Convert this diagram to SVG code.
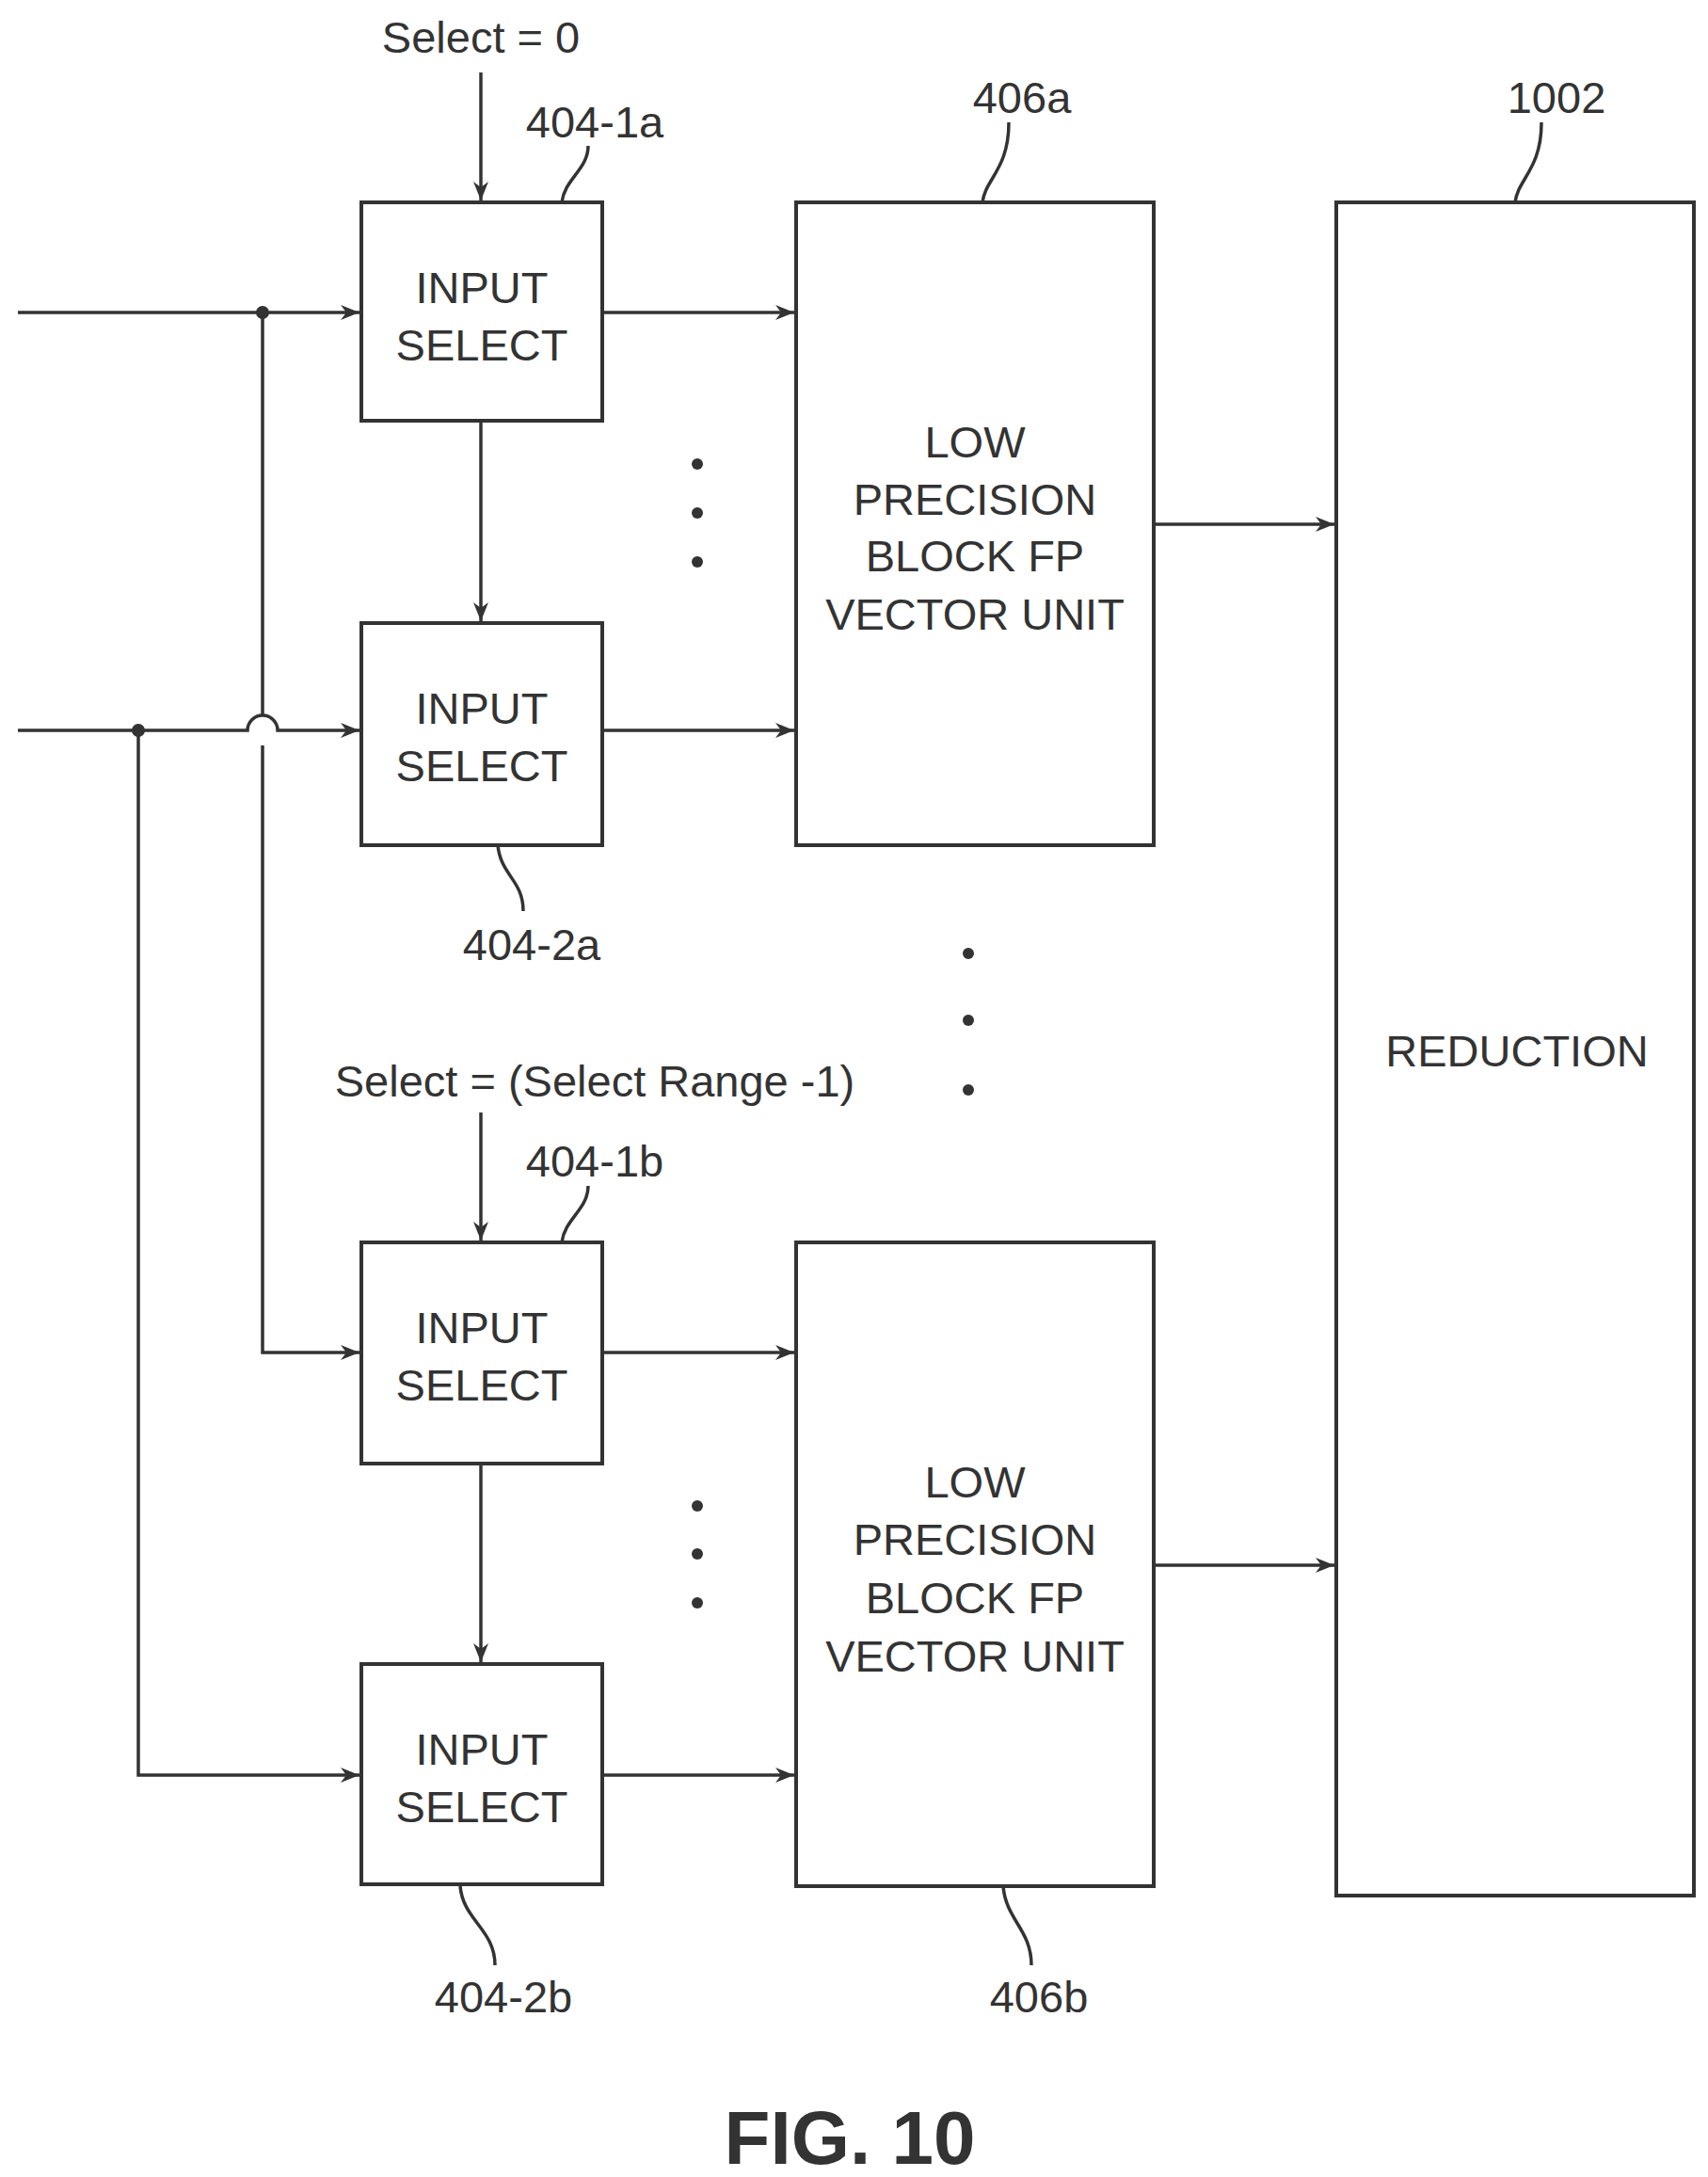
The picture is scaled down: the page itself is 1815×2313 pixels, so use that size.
<svg xmlns="http://www.w3.org/2000/svg" width="1815" height="2313" viewBox="0 0 1815 2313">
<defs>
<marker id="ar" viewBox="0 0 20 16" refX="20" refY="8" markerWidth="20" markerHeight="16" markerUnits="userSpaceOnUse" orient="auto">
<path d="M0,0 L20,8 L0,16 L6,8 Z" fill="#333"/>
</marker>
</defs>
<style>
.b{fill:#fff;stroke:#333;stroke-width:4}
.l{fill:none;stroke:#333;stroke-width:3.5}
.t{font-family:"Liberation Sans",Arial,sans-serif;font-size:47px;fill:#333;text-anchor:middle}
.d{fill:#333}
</style>
<rect width="1815" height="2313" fill="#fff"/>
<g id="connectors">
<path class="l" d="M19,332 H382" marker-end="url(#ar)"/>
<path class="l" d="M19,776 H263 A16,16 0 0 1 295,776 H382" marker-end="url(#ar)"/>
<path class="l" d="M279,332 V760 M279,792 V1437 H382" marker-end="url(#ar)"/>
<path class="l" d="M147,776 V1886 H382" marker-end="url(#ar)"/>
<circle class="d" cx="279" cy="332" r="7"/>
<circle class="d" cx="147" cy="776" r="7"/>
<path class="l" d="M640,332 H844" marker-end="url(#ar)"/>
<path class="l" d="M640,776 H844" marker-end="url(#ar)"/>
<path class="l" d="M640,1437 H844" marker-end="url(#ar)"/>
<path class="l" d="M640,1886 H844" marker-end="url(#ar)"/>
<path class="l" d="M1226,557 H1418" marker-end="url(#ar)"/>
<path class="l" d="M1226,1663 H1418" marker-end="url(#ar)"/>
<path class="l" d="M511,77 V213" marker-end="url(#ar)"/>
<path class="l" d="M511,447 V660" marker-end="url(#ar)"/>
<path class="l" d="M511,1182 V1318" marker-end="url(#ar)"/>
<path class="l" d="M511,1555 V1766" marker-end="url(#ar)"/>
<path class="l" d="M597,215 C600,190 625,180 625,155"/>
<path class="l" d="M1044,215 C1047,190 1072,180 1072,130"/>
<path class="l" d="M1610,215 C1613,190 1638,180 1638,130"/>
<path class="l" d="M529,898 C532,930 556,935 556,968"/>
<path class="l" d="M597,1320 C600,1295 625,1285 625,1260"/>
<path class="l" d="M489,2004 C492,2040 526,2050 526,2088"/>
<path class="l" d="M1066,2004 C1069,2040 1096,2050 1096,2088"/>
</g>
<g id="dots">
<circle class="d" cx="741" cy="493" r="6"/><circle class="d" cx="741" cy="545" r="6"/><circle class="d" cx="741" cy="597" r="6"/>
<circle class="d" cx="1029" cy="1013" r="6"/><circle class="d" cx="1029" cy="1084" r="6"/><circle class="d" cx="1029" cy="1158" r="6"/>
<circle class="d" cx="741" cy="1600" r="6"/><circle class="d" cx="741" cy="1651" r="6"/><circle class="d" cx="741" cy="1703" r="6"/>
</g>
<g id="n404-1a"><rect class="b" x="384" y="215" width="256" height="232"/><text class="t" x="512" y="322">INPUT</text><text class="t" x="512" y="383">SELECT</text></g>
<g id="n404-2a"><rect class="b" x="384" y="662" width="256" height="236"/><text class="t" x="512" y="769">INPUT</text><text class="t" x="512" y="830">SELECT</text></g>
<g id="n404-1b"><rect class="b" x="384" y="1320" width="256" height="235"/><text class="t" x="512" y="1427">INPUT</text><text class="t" x="512" y="1488">SELECT</text></g>
<g id="n404-2b"><rect class="b" x="384" y="1768" width="256" height="234"/><text class="t" x="512" y="1875">INPUT</text><text class="t" x="512" y="1936">SELECT</text></g>
<g id="n406a"><rect class="b" x="846" y="215" width="380" height="683"/><text class="t" x="1036" y="486">LOW</text><text class="t" x="1036" y="547">PRECISION</text><text class="t" x="1036" y="607">BLOCK FP</text><text class="t" x="1036" y="669">VECTOR UNIT</text></g>
<g id="n406b"><rect class="b" x="846" y="1320" width="380" height="684"/><text class="t" x="1036" y="1591">LOW</text><text class="t" x="1036" y="1652">PRECISION</text><text class="t" x="1036" y="1714">BLOCK FP</text><text class="t" x="1036" y="1776">VECTOR UNIT</text></g>
<g id="n1002"><rect class="b" x="1420" y="215" width="380" height="1799"/><text class="t" x="1612" y="1133">REDUCTION</text></g>
<g id="labels">
<text class="t" x="511" y="56">Select = 0</text>
<text class="t" x="632" y="146">404-1a</text>
<text class="t" x="1086" y="120">406a</text>
<text class="t" x="1654" y="120">1002</text>
<text class="t" x="565" y="1020">404-2a</text>
<text class="t" x="632" y="1165">Select = (Select Range -1)</text>
<text class="t" x="632" y="1250">404-1b</text>
<text class="t" x="535" y="2138">404-2b</text>
<text class="t" x="1104" y="2138">406b</text>
<text class="t" x="903" y="2299" style="font-size:80px;font-weight:bold">FIG. 10</text>
</g>
</svg>
